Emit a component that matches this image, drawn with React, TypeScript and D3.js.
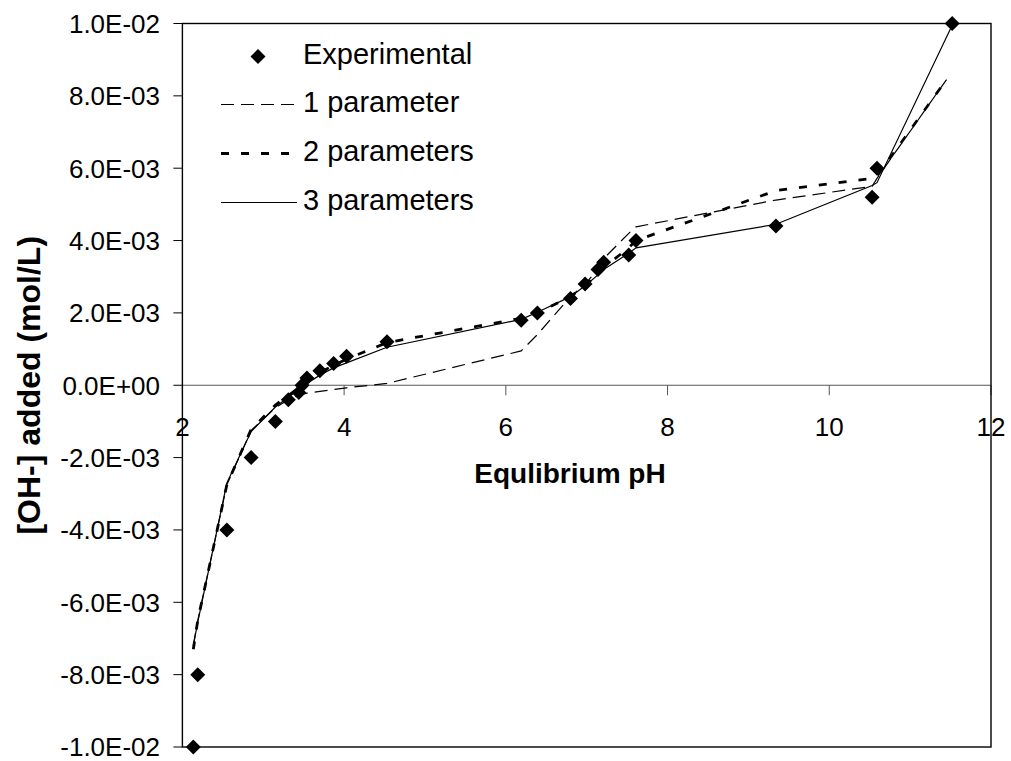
import React from "react";
import * as d3 from "d3";

// experimental points
const expPH = [2.135, 2.19, 2.55, 2.85, 3.15, 3.31, 3.44, 3.48, 3.54, 3.7, 3.87, 4.03, 4.53, 6.19, 6.39, 6.8, 6.98, 7.14, 7.21, 7.52, 7.61, 9.34, 10.53, 10.59, 11.52];
const expOH = [-10e-3, -8e-3, -4e-3, -2e-3, -1e-3, -0.4e-3, -0.2e-3, 0, 0.2e-3, 0.4e-3, 0.6e-3, 0.8e-3, 1.2e-3, 1.8e-3, 2.0e-3, 2.4e-3, 2.8e-3, 3.2e-3, 3.4e-3, 3.6e-3, 4.0e-3, 4.4e-3, 5.2e-3, 6.0e-3, 10e-3];

// model curves (pH, value x 1e-3)
const fitPH = [2.135, 2.19, 2.55, 2.85, 3.15, 3.31, 3.44, 3.48, 3.54, 3.7, 3.87, 4.03, 4.53, 6.19, 6.39, 6.8, 6.98, 7.14, 7.21, 7.52, 7.61, 9.34, 10.53, 10.59];
const fit1 = [-7.2, -6.5, -2.75, -1.25, -0.62, -0.4, -0.27, -0.25, -0.22, -0.17, -0.12, -0.07, 0.05, 0.95, 1.4, 2.45, 2.8, 3.2, 3.5, 4.2, 4.38, 5.12, 5.5, 5.72];
const fit2 = [-7.3, -6.5, -2.75, -1.22, -0.55, -0.28, -0.08, 0.0, 0.1, 0.35, 0.55, 0.72, 1.18, 1.85, 2.0, 2.45, 2.75, 3.1, 3.25, 3.8, 4.0, 5.38, 5.72, 5.78];
const fit3 = [-7.2, -6.55, -2.7, -1.28, -0.6, -0.33, -0.12, -0.05, 0.05, 0.28, 0.48, 0.62, 1.05, 1.82, 2.02, 2.45, 2.75, 3.05, 3.2, 3.65, 3.8, 4.45, 5.52, 5.6];
const fitEndPH = [11.45, 11.45, 11.52];
const fitEnd = [8.45, 8.45, 9.95];

const xTicks = [2, 4, 6, 8, 10, 12];
const yTicks = [-0.01, -0.008, -0.006, -0.004, -0.002, 0, 0.002, 0.004, 0.006, 0.008, 0.01];

const legendNames = ["Experimental", "1 parameter", "2 parameters", "3 parameters"];

const FONT = "'Liberation Sans', Arial, sans-serif";

const sci = (v: number) => {
  if (v === 0) return "0.0E+00";
  const [m, e] = v.toExponential(1).split("e");
  const n = parseInt(e, 10);
  return `${m}E${n < 0 ? "-" : "+"}${String(Math.abs(n)).padStart(2, "0")}`;
};

const diamond = (cx: number, cy: number, r: number) =>
  `M${cx},${cy - r}L${cx + r},${cy}L${cx},${cy + r}L${cx - r},${cy}Z`;

export default function App() {
  const width = 1011;
  const height = 761;
  const x = d3.scaleLinear().domain([2, 12]).range([182.4, 991]);
  const y = d3.scaleLinear().domain([-0.01, 0.01]).range([747, 23.5]);

  const line = d3
    .line<[number, number]>()
    .x((d) => x(d[0]))
    .y((d) => y(d[1] * 1e-3));

  const series = [fit1, fit2, fit3].map((vals, i) => {
    const pts: [number, number][] = fitPH.map((p, j) => [p, vals[j]]);
    pts.push([fitEndPH[i], fitEnd[i]]);
    return pts;
  });

  const styles = [
    { w: 1.2, dash: "13,7" },
    { w: 2.8, dash: "8,12" },
    { w: 1.2, dash: "none" },
  ];

  const x0 = x.range()[0];
  const x1 = x.range()[1];
  const yTop = y.range()[1];
  const yBot = y.range()[0];

  const legendY = [53.5, 102, 151, 200];

  return (
    <svg
      width={width}
      height={height}
      style={{ position: "absolute", left: 0, top: 0, background: "#fff" }}
      fontFamily={FONT}
    >
      {/* y ticks */}
      {yTicks.map((t) => (
        <g key={t}>
          <line x1={x0 - 9} x2={x0} y1={y(t)} y2={y(t)} stroke="#000" strokeWidth={1} />
          <text x={160} y={y(t)} dy="0.36em" textAnchor="end" fontSize={26}>
            {sci(t)}
          </text>
        </g>
      ))}
      {/* zero line + x ticks */}
      <line x1={x0} x2={x1} y1={y(0)} y2={y(0)} stroke="#555" strokeWidth={1} />
      {xTicks.map((t) => (
        <g key={t}>
          <line x1={x(t)} x2={x(t)} y1={y(0)} y2={y(0) + 10} stroke="#555" strokeWidth={1} />
          <text x={x(t)} y={427} dy="0.36em" textAnchor="middle" fontSize={26}>
            {t}
          </text>
        </g>
      ))}
      {/* frame */}
      <rect x={x0} y={yTop} width={x1 - x0} height={yBot - yTop} fill="none" stroke="#000" strokeWidth={1.4} />

      {/* axis titles */}
      <text x={570} y={473} dy="0.36em" textAnchor="middle" fontSize={28} fontWeight="bold">
        Equlibrium pH
      </text>
      <text
        transform={`translate(28,${(yTop + yBot) / 2}) rotate(-90)`}
        dy="0.36em"
        textAnchor="middle"
        fontSize={32}
        fontWeight="bold"
      >
        [OH-] added (mol/L)
      </text>

      {/* model curves */}
      {series.map((pts, i) => (
        <path
          key={i}
          d={line(pts) || ""}
          fill="none"
          stroke="#000"
          strokeWidth={styles[i].w}
          strokeDasharray={styles[i].dash}
        />
      ))}

      {/* experimental */}
      {expPH.map((p, i) => (
        <path key={i} d={diamond(x(p), y(expOH[i]), 7.5)} fill="#000" />
      ))}

      {/* legend */}
      <path d={diamond(258, 56.5, 7.5)} fill="#000" />
      {[1, 2, 3].map((k) => (
        <line
          key={k}
          x1={221}
          x2={297}
          y1={legendY[k] + 2.5}
          y2={legendY[k] + 2.5}
          stroke="#000"
          strokeWidth={styles[k - 1].w}
          strokeDasharray={styles[k - 1].dash}
        />
      ))}
      {legendNames.map((n, i) => (
        <text key={n} x={303} y={legendY[i]} dy="0.36em" fontSize={29}>
          {n}
        </text>
      ))}
    </svg>
  );
}
